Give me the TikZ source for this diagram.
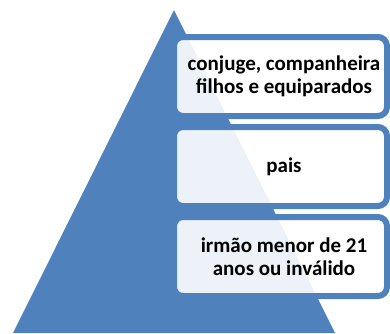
\documentclass[tikz,border=0pt]{standalone}
\usepackage{fontspec}
\setmainfont{Carlito}[BoldFont={Carlito Bold}]
\definecolor{pyrblue}{HTML}{4F81BD}
\begin{document}
\begin{tikzpicture}[x=1pt,y=-1pt,
  tierbox/.style={draw=pyrblue, line width=6pt, rounded corners=9pt,
    fill=white, fill opacity=0.9, minimum width=213pt, minimum height=79pt,
    inner sep=0pt},
  tiertext/.style={align=center, font=\bfseries\fontsize{21}{22.5}\selectfont,
    text=black, inner sep=0pt}]
\useasboundingbox (0,0) rectangle (390,333);
\fill[pyrblue] (174,10) -- (335,333) -- (13,333) -- cycle;
\node[tierbox] (b1) at (280.5,76.5) {};
\node[tierbox] (b2) at (280.5,166.5) {};
\node[tierbox] (b3) at (280.5,256.5) {};
\node[tiertext] (t1) at ([xshift=3.5pt]b1.center) {conjuge, companheira\\filhos e equiparados};
\node[tiertext] (t2) at ([xshift=3.5pt]b2.center) {pais};
\node[tiertext] (t3) at ([xshift=3.5pt]b3.center) {irmão menor de 21\\anos ou inválido};
\end{tikzpicture}
\end{document}
